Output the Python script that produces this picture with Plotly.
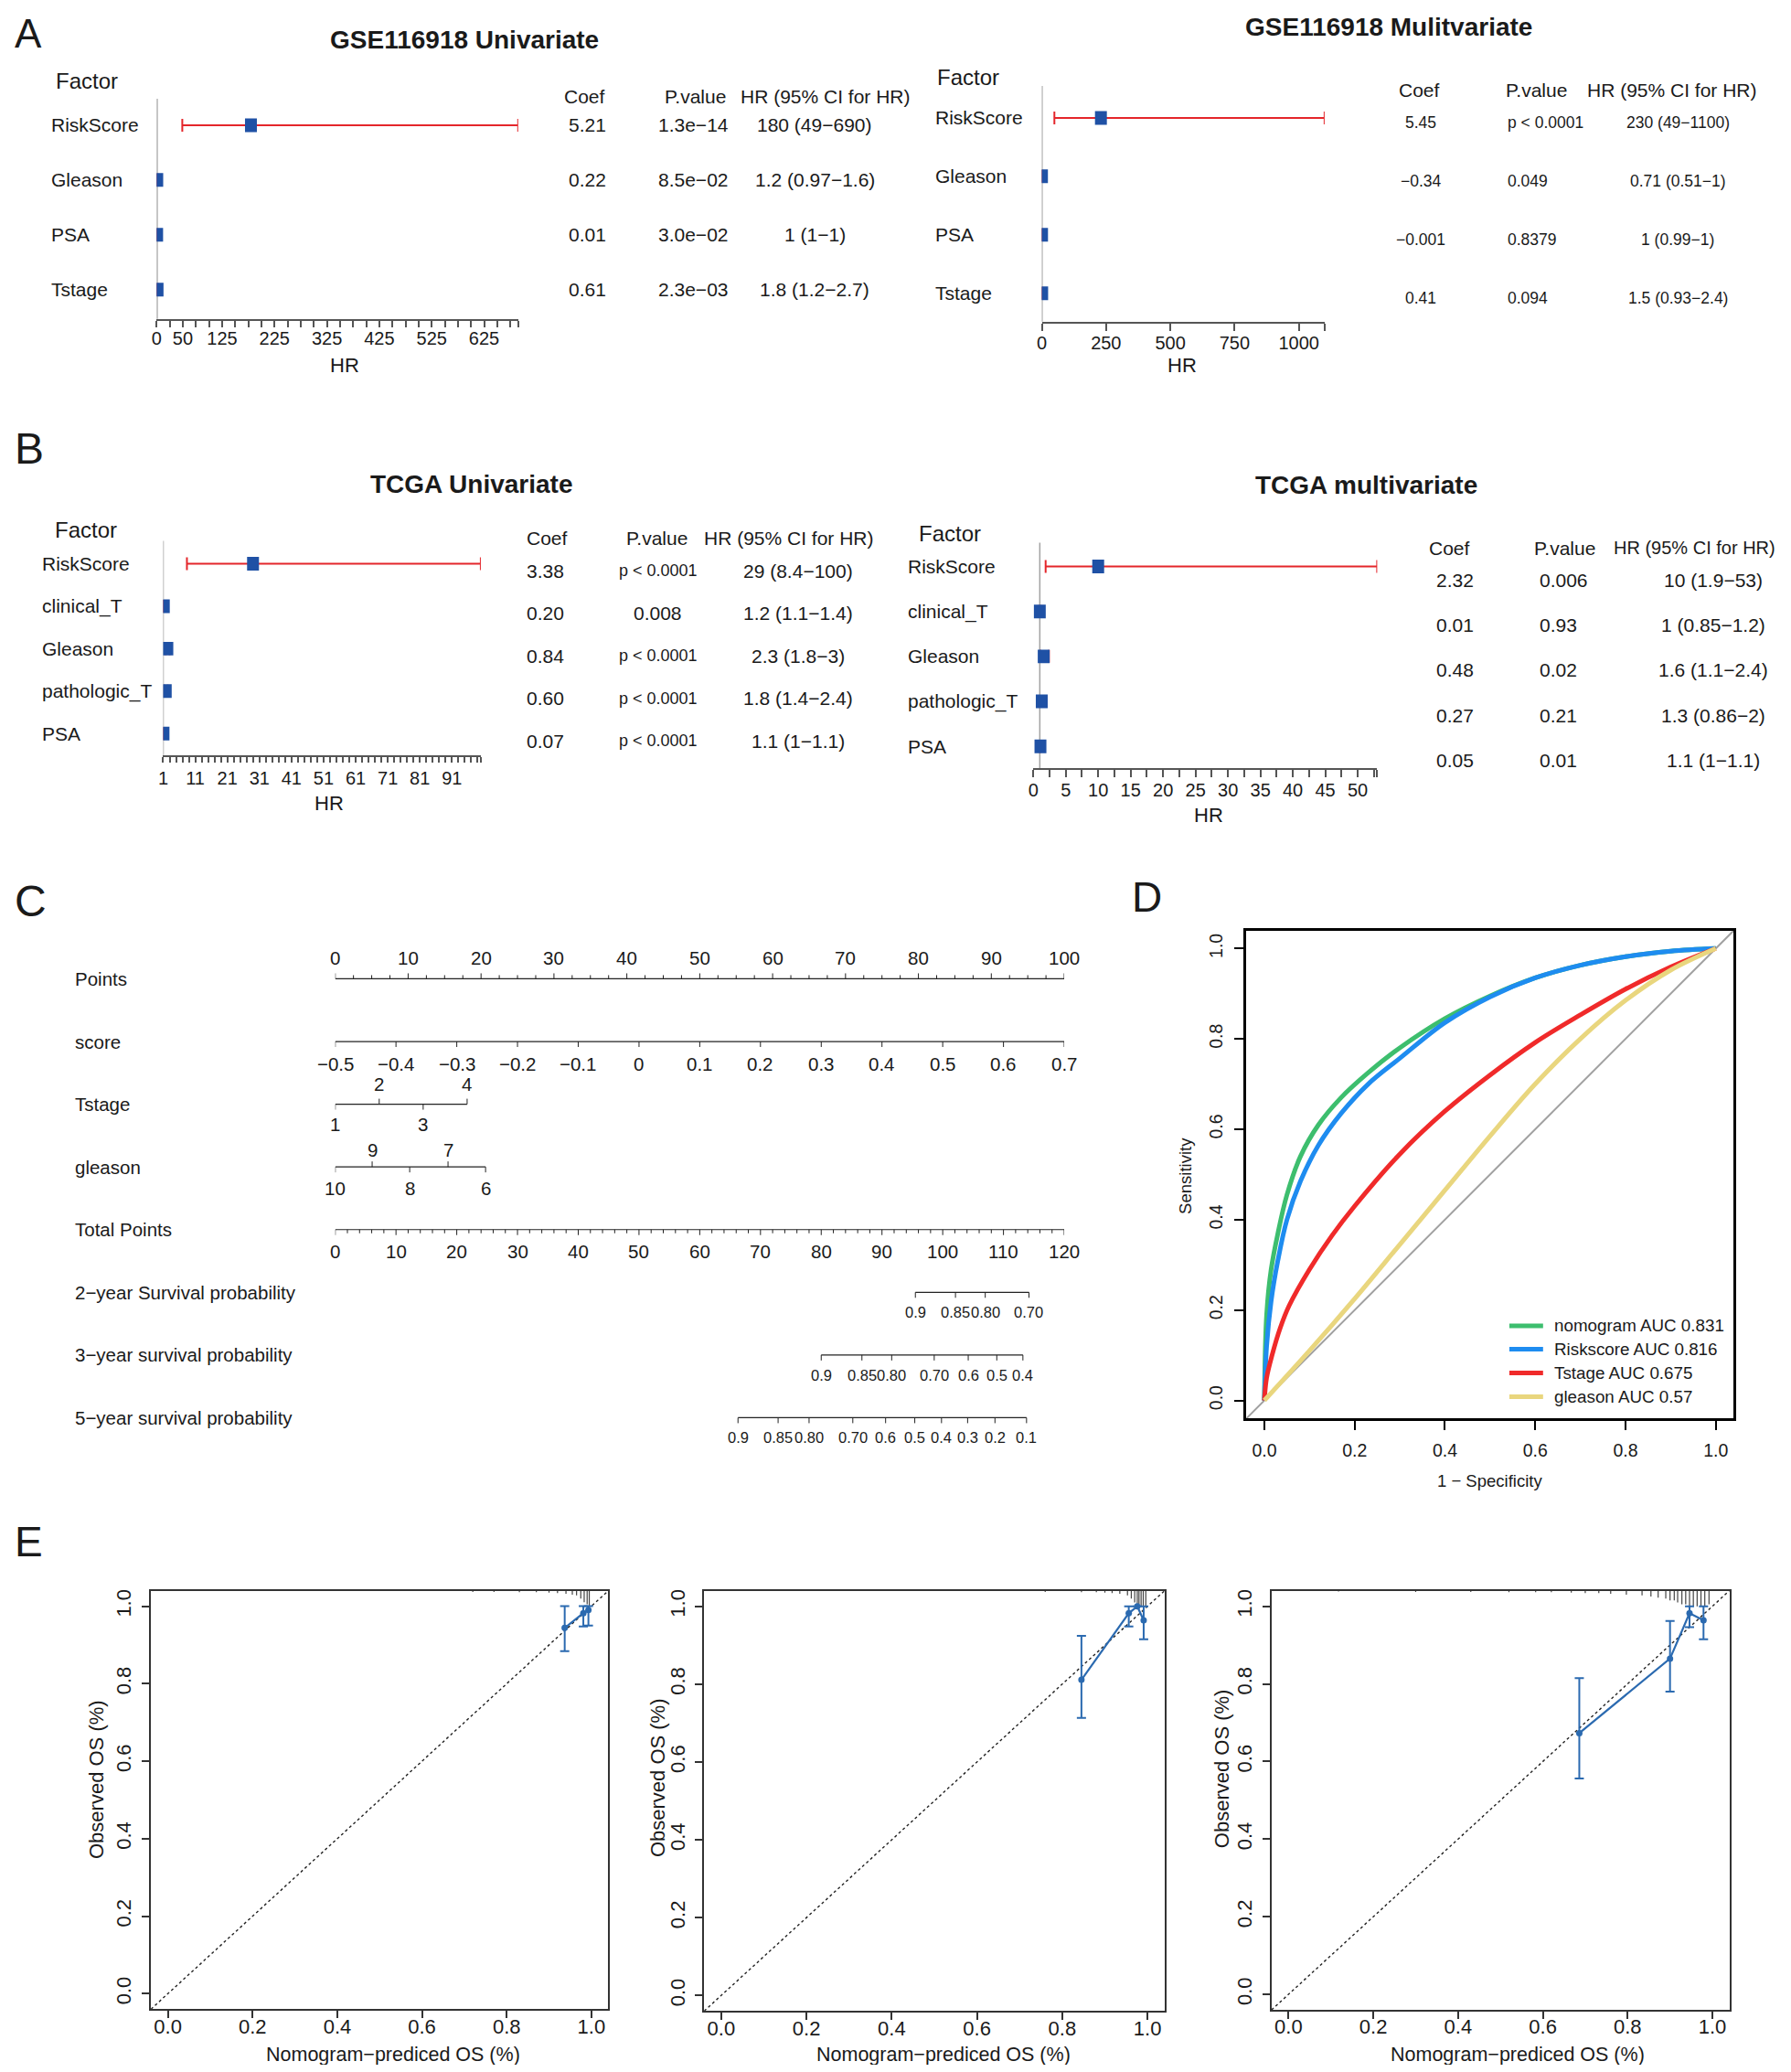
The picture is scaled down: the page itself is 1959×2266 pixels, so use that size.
import numpy as np
import plotly.graph_objects as go

# window geometry; the page body adds an 8 px margin around the figure
W, H = 1959, 2266
OX, OY = 8, 8
FW, FH = W - 2 * OX, H - 2 * OY
LEFT_FIX = -6          # compensates the inner padding of left-anchored annotations
ARIAL = "Liberation Sans, Arial, Helvetica, sans-serif"
INK = "#1a1a1a"
AXIS_GREY = "#555555"
BOX_BLUE = "#1F51A5"
CI_RED = "#E4262B"
CAL_BLUE = "#2B6AB0"

# ---------------- Panel A: GSE116918 ----------------
gse_uni_factors = ["RiskScore", "Gleason", "PSA", "Tstage"]
gse_uni_hr = [180, 1.2, 1, 1.8]
gse_uni_lo = [49, 0.97, 1, 1.2]
gse_uni_hi = [690, 1.6, 1, 2.7]
gse_uni_coef = ["5.21", "0.22", "0.01", "0.61"]
gse_uni_p = ["1.3e−14", "8.5e−02", "3.0e−02", "2.3e−03"]
gse_uni_ci = ["180 (49−690)", "1.2 (0.97−1.6)", "1 (1−1)", "1.8 (1.2−2.7)"]
gse_uni_ticklabels = [0, 50, 125, 225, 325, 425, 525, 625]

gse_multi_factors = ["RiskScore", "Gleason", "PSA", "Tstage"]
gse_multi_hr = [230, 0.71, 1, 1.5]
gse_multi_lo = [49, 0.51, 0.99, 0.93]
gse_multi_hi = [1100, 1, 1, 2.4]
gse_multi_coef = ["5.45", "−0.34", "−0.001", "0.41"]
gse_multi_p = ["p < 0.0001", "0.049", "0.8379", "0.094"]
gse_multi_ci = ["230 (49−1100)", "0.71 (0.51−1)", "1 (0.99−1)", "1.5 (0.93−2.4)"]
gse_multi_ticklabels = [0, 250, 500, 750, 1000]

# ---------------- Panel B: TCGA ----------------
tcga_uni_factors = ["RiskScore", "clinical_T", "Gleason", "pathologic_T", "PSA"]
tcga_uni_hr = [29, 1.2, 2.3, 1.8, 1.1]
tcga_uni_lo = [8.4, 1.1, 1.8, 1.4, 1]
tcga_uni_hi = [100, 1.4, 3, 2.4, 1.1]
tcga_uni_coef = ["3.38", "0.20", "0.84", "0.60", "0.07"]
tcga_uni_p = ["p < 0.0001", "0.008", "p < 0.0001", "p < 0.0001", "p < 0.0001"]
tcga_uni_ci = ["29 (8.4−100)", "1.2 (1.1−1.4)", "2.3 (1.8−3)", "1.8 (1.4−2.4)", "1.1 (1−1.1)"]
tcga_uni_ticklabels = [1, 11, 21, 31, 41, 51, 61, 71, 81, 91]

tcga_multi_factors = ["RiskScore", "clinical_T", "Gleason", "pathologic_T", "PSA"]
tcga_multi_hr = [10, 1, 1.6, 1.3, 1.1]
tcga_multi_lo = [1.9, 0.85, 1.1, 0.86, 1]
tcga_multi_hi = [53, 1.2, 2.4, 2, 1.1]
tcga_multi_coef = ["2.32", "0.01", "0.48", "0.27", "0.05"]
tcga_multi_p = ["0.006", "0.93", "0.02", "0.21", "0.01"]
tcga_multi_ci = ["10 (1.9−53)", "1 (0.85−1.2)", "1.6 (1.1−2.4)", "1.3 (0.86−2)", "1.1 (1−1.1)"]
tcga_multi_ticklabels = [0, 5, 10, 15, 20, 25, 30, 35, 40, 45, 50]

# ---------------- Panel C: nomogram ----------------
nomo_row_labels = ["Points", "score", "Tstage", "gleason", "Total Points",
                   "2−year Survival probability", "3−year survival probability",
                   "5−year survival probability"]
points_labels = [0, 10, 20, 30, 40, 50, 60, 70, 80, 90, 100]
score_labels = ["−0.5", "−0.4", "−0.3", "−0.2", "−0.1", "0", "0.1", "0.2", "0.3", "0.4", "0.5", "0.6", "0.7"]
score_points = [0, 8.33, 16.67, 25, 33.33, 41.67, 50, 58.33, 66.67, 75, 83.33, 91.67, 100]
tstage_labels = ["1", "2", "3", "4"]
tstage_points = [0, 6.03, 12.06, 18.09]
gleason_labels = ["10", "9", "8", "7", "6"]
gleason_points = [0, 5.06, 10.21, 15.47, 20.62]
total_labels = [0, 10, 20, 30, 40, 50, 60, 70, 80, 90, 100, 110, 120]
surv2_labels = ["0.9", "0.85", "0.80", "0.70"]
surv2_total = [95.5, 102.1, 107.0, 114.2]
surv3_labels = ["0.9", "0.85", "0.80", "0.70", "0.6", "0.5", "0.4"]
surv3_total = [80.0, 86.7, 91.6, 98.6, 104.2, 108.9, 113.2]
surv5_labels = ["0.9", "0.85", "0.80", "0.70", "0.6", "0.5", "0.4", "0.3", "0.2", "0.1"]
surv5_total = [66.3, 72.9, 78.0, 85.2, 90.6, 95.4, 99.8, 104.1, 108.6, 113.8]

# ---------------- Panel D: ROC ----------------
roc_names = ["nomogram AUC 0.831", "Riskscore AUC 0.816", "Tstage AUC 0.675", "gleason AUC 0.57"]
roc_colors = ["#3DBE6E", "#1E8CF0", "#F02A2A", "#E9D67E"]
nomo_fpr = [0, 0.005, 0.015, 0.03, 0.05, 0.08, 0.12, 0.17, 0.23, 0.3, 0.4, 0.5, 0.6, 0.7, 0.8, 0.9, 1.0]
nomo_tpr = [0, 0.19, 0.29, 0.37, 0.455, 0.54, 0.61, 0.67, 0.725, 0.78, 0.845, 0.895, 0.935, 0.963, 0.982, 0.994, 1.0]
risk_fpr = [0, 0.005, 0.015, 0.03, 0.05, 0.08, 0.12, 0.17, 0.23, 0.3, 0.4, 0.5, 0.6, 0.7, 0.8, 0.9, 1.0]
risk_tpr = [0, 0.12, 0.22, 0.31, 0.40, 0.485, 0.565, 0.635, 0.70, 0.757, 0.836, 0.893, 0.935, 0.963, 0.982, 0.994, 1.0]
tstage_fpr = [0, 0.005, 0.017, 0.035, 0.055, 0.1, 0.15, 0.2, 0.3, 0.4, 0.5, 0.6, 0.7, 0.8, 0.9, 1.0]
tstage_tpr = [0, 0.05, 0.10, 0.16, 0.21, 0.29, 0.365, 0.43, 0.545, 0.64, 0.72, 0.792, 0.853, 0.91, 0.959, 1.0]
gleason_fpr = [0, 0.1, 0.2, 0.3, 0.4, 0.5, 0.6, 0.7, 0.8, 0.9, 1.0]
gleason_tpr = [0, 0.11, 0.225, 0.345, 0.465, 0.585, 0.70, 0.80, 0.885, 0.952, 1.0]

# ---------------- Panel E: calibration ----------------
cal1_pred = [0.937, 0.981, 0.993]
cal1_obs = [0.944, 0.982, 0.99]
cal1_lo = [0.884, 0.948, 0.950]
cal1_hi = [1.0, 1.0, 1.0]
cal1_rug_x = [0.72, 0.77, 0.83, 0.87, 0.90, 0.92, 0.94, 0.955, 0.965, 0.975, 0.983, 0.99, 0.995]
cal1_rug_h = [0.003, 0.003, 0.004, 0.004, 0.005, 0.006, 0.008, 0.01, 0.012, 0.02, 0.03, 0.035, 0.04]

cal2_pred = [0.845, 0.956, 0.976, 0.991]
cal2_obs = [0.811, 0.982, 1.0, 0.964]
cal2_lo = [0.713, 0.948, 1.0, 0.915]
cal2_hi = [0.924, 1.0, 1.0, 1.0]
cal2_rug_x = [0.76, 0.845, 0.88, 0.90, 0.917, 0.935, 0.953, 0.962, 0.97, 0.976, 0.98, 0.985, 0.99, 0.996]
cal2_rug_h = [0.003, 0.004, 0.004, 0.005, 0.006, 0.008, 0.012, 0.02, 0.03, 0.035, 0.035, 0.04, 0.04, 0.04]

cal3_pred = [0.686, 0.90, 0.946, 0.979]
cal3_obs = [0.673, 0.865, 0.982, 0.964]
cal3_lo = [0.556, 0.780, 0.946, 0.915]
cal3_hi = [0.815, 0.962, 1.0, 1.0]
cal3_rug_x = [0.118, 0.30, 0.43, 0.52, 0.583, 0.62, 0.667, 0.70, 0.732, 0.76, 0.797, 0.834, 0.855,
              0.872, 0.89, 0.90, 0.91, 0.918, 0.928, 0.937, 0.946, 0.955, 0.964, 0.973, 0.982, 0.992]
cal3_rug_h = [0.002, 0.003, 0.003, 0.004, 0.004, 0.004, 0.005, 0.006, 0.006, 0.008, 0.01, 0.012, 0.015,
              0.018, 0.02, 0.025, 0.025, 0.03, 0.035, 0.035, 0.04, 0.04, 0.04, 0.04, 0.04, 0.035]

# ======================================================================
fig = go.Figure()
layout_axes = {}
annotations = []
shapes = []


def ax_names(k):
    if k == 1:
        return "xaxis", "yaxis", "x", "y"
    return f"xaxis{k}", f"yaxis{k}", f"x{k}", f"y{k}"


def fx(px):
    return (px - OX) / FW


def fy(py):
    return 1 - (py - OY) / FH


def xdom(a, b):
    return [fx(a), fx(b)]


def ydom(top, bot):
    return [fy(bot), fy(top)]


def text(t, x, y, size, xanchor="center", yanchor="middle", angle=0, color=INK, fix=True):
    if xanchor == "left" and fix:
        x = x + LEFT_FIX
    annotations.append(dict(text=t, x=fx(x), y=fy(y), xref="paper", yref="paper",
                            showarrow=False, xanchor=xanchor, yanchor=yanchor, textangle=angle,
                            font=dict(size=size, family=ARIAL, color=color)))


def segs(xs, ys, xr, yr, color, width, dash="solid"):
    fig.add_trace(go.Scatter(x=xs, y=ys, xaxis=xr, yaxis=yr, mode="lines",
                             line=dict(color=color, width=width, dash=dash),
                             showlegend=False, hoverinfo="skip"))


def fmt(v):
    return f"{v:g}"


def forest(k, cfg):
    xa, ya, xr, yr = ax_names(k)
    factors = cfg["factors"]
    rows = list(range(len(factors)))
    top, bot = cfg["ypx"]
    r0, st = cfg["row0"], cfg["step"]
    tickvals = cfg["tickvals"]
    ticktext = [fmt(v) if any(abs(v - t) < 1e-9 for t in cfg["ticklabels"]) else "" for v in tickvals]
    layout_axes[xa] = dict(domain=xdom(*cfg["xpx"]), range=cfg["xrange"], anchor=yr,
                           tickmode="array", tickvals=tickvals, ticktext=ticktext,
                           ticks="outside", ticklen=cfg.get("ticklen", 7), tickwidth=1.5,
                           tickcolor=AXIS_GREY, showline=True, linecolor=AXIS_GREY, linewidth=2,
                           showgrid=False, zeroline=False,
                           ticklabelstandoff=cfg.get("standoff", 0),
                           tickfont=dict(family=ARIAL, size=20, color=INK))
    layout_axes[ya] = dict(domain=ydom(top, bot), range=[(bot - r0) / st, (top - r0) / st],
                           anchor=xr, visible=False)
    shapes.append(dict(type="line", xref=xr, yref=f"{yr} domain", x0=1, x1=1, y0=0, y1=1,
                       line=dict(color="#A3A3A3", width=1.5), layer="below"))
    hr, lo, hi = cfg["hr"], cfg["lo"], cfg["hi"]
    fig.add_trace(go.Scatter(
        x=hr, y=rows, xaxis=xr, yaxis=yr, mode="markers",
        marker=dict(size=1, color="rgba(0,0,0,0)"),
        error_x=dict(type="data", symmetric=False,
                     array=[b - a for a, b in zip(hr, hi)],
                     arrayminus=[a - b for a, b in zip(hr, lo)],
                     color=CI_RED, thickness=2, width=7),
        showlegend=False, hoverinfo="skip"))
    half = 7.5 / st
    bx, by = [], []
    for h, r in zip(hr, rows):
        bx += [h, h, None]
        by += [r - half, r + half, None]
    segs(bx, by, xr, yr, BOX_BLUE, 13)
    for i, f in enumerate(factors):
        annotations.append(dict(text=f, x=fx(cfg["label_x"] + LEFT_FIX), y=i, xref="paper", yref=yr,
                                xanchor="left", yanchor="middle", showarrow=False,
                                font=dict(family=ARIAL, size=21, color=INK)))
    for col, (cx, anchor) in zip([cfg["coef"], cfg["p"], cfg["ci"]], cfg["cols"]):
        for i, t in enumerate(col):
            size = cfg.get("psize", 18) if t.startswith("p <") else cfg.get("vsize", 21)
            xx = cx + (LEFT_FIX if anchor == "left" else 0)
            annotations.append(dict(text=t, x=fx(xx), y=i, xref="paper", yref=yr,
                                    xanchor=anchor, yanchor="middle", showarrow=False,
                                    yshift=cfg["shift"],
                                    font=dict(family=ARIAL, size=size, color=INK)))
    hx = cfg["hdr"]
    text("Factor", hx["factor"][0], hx["factor"][1], 24, xanchor="left")
    text("Coef", hx["coef"], hx["y"], 21)
    text("P.value", hx["p"], hx["y"], 21)
    text("HR (95% CI for HR)", hx["hr"], hx["y"], hx.get("hrsize", 21))
    text("<b>" + cfg["title"][0] + "</b>", cfg["title"][1], cfg["title"][2], 28)
    text("HR", cfg["hrlab"][0], cfg["hrlab"][1], 22)


forest(1, dict(factors=gse_uni_factors, hr=gse_uni_hr, lo=gse_uni_lo, hi=gse_uni_hi,
               coef=gse_uni_coef, p=gse_uni_p, ci=gse_uni_ci,
               xpx=(165.8, 562.5), ypx=(106, 347), xrange=[0, 690], row0=135, step=60,
               tickvals=[float(v) for v in np.arange(0, 676, 25)] + [690.0],
               ticklabels=gse_uni_ticklabels, label_x=54, standoff=-5,
               cols=[(638, "center"), (755, "center"), (888, "center")], shift=0,
               hdr=dict(factor=(59, 87), coef=635, p=757, hr=900, y=104),
               title=("GSE116918 Univariate", 504, 42), hrlab=(372, 398)))

forest(2, dict(factors=gse_multi_factors, hr=gse_multi_hr, lo=gse_multi_lo, hi=gse_multi_hi,
               coef=gse_multi_coef, p=gse_multi_p, ci=gse_multi_ci,
               xpx=(1137, 1447.3), ypx=(92, 350), xrange=[0, 1100], row0=127, step=64,
               tickvals=[0.0, 250.0, 500.0, 750.0, 1000.0, 1100.0],
               ticklabels=gse_multi_ticklabels, label_x=1024, vsize=17.5, psize=17.5,
               cols=[(1553, "center"), (1652, "left"), (1835, "center")], shift=-5,
               hdr=dict(factor=(1026, 83), coef=1551, p=1680, hr=1829, y=97),
               title=("GSE116918 Mulitvariate", 1518, 28), hrlab=(1291, 398), ticklen=8,
               standoff=-4))

forest(3, dict(factors=tcga_uni_factors, hr=tcga_uni_hr, lo=tcga_uni_lo, hi=tcga_uni_hi,
               coef=tcga_uni_coef, p=tcga_uni_p, ci=tcga_uni_ci,
               xpx=(173, 521.5), ypx=(590, 825), xrange=[1, 100], row0=615, step=46.5,
               tickvals=[float(v) for v in np.arange(1, 100, 2)] + [100.0],
               ticklabels=tcga_uni_ticklabels, label_x=44,
               cols=[(592, "center"), (716, "center"), (870, "center")], shift=-8,
               hdr=dict(factor=(58, 578), coef=594, p=715, hr=860, y=587),
               title=("TCGA Univariate", 511, 528), hrlab=(355, 877), ticklen=6))

forest(4, dict(factors=tcga_multi_factors, hr=tcga_multi_hr, lo=tcga_multi_lo, hi=tcga_multi_hi,
               coef=tcga_multi_coef, p=tcga_multi_p, ci=tcga_multi_ci,
               xpx=(1127.7, 1505), ypx=(592, 839), xrange=[0, 53], row0=618, step=49.25,
               tickvals=[float(v) for v in np.arange(0, 53, 2.5)] + [53.0],
               ticklabels=tcga_multi_ticklabels, label_x=994,
               cols=[(1590, "center"), (1687, "left"), (1874, "center")], shift=-15,
               hdr=dict(factor=(1006, 582), coef=1584, p=1711, hr=1853, y=598, hrsize=20),
               title=("TCGA multivariate", 1493, 529), hrlab=(1320, 890), ticklen=8,
               standoff=-3))

# ---------------- Panel C ----------------
C_TOP, C_BOT = 1020, 1600
C_ROW0, C_STEP = 1069.4, 68.63
layout_axes["xaxis5"] = dict(domain=xdom(361.8, 1161.6), range=[0, 100], visible=False, anchor="y5")
layout_axes["yaxis5"] = dict(domain=ydom(C_TOP, C_BOT),
                             range=[(C_BOT - C_ROW0) / C_STEP, (C_TOP - C_ROW0) / C_STEP],
                             visible=False, anchor="x5")
TOTAL_MAX = 120.0


def nomo(row, pos, labels, sides, size=20.5, gap_above=22, gap_below=23, ticklen=6,
         minor=None, minor_len=4):
    segs([min(pos), max(pos)], [row, row], "x5", "y5", "#222", 1.2)
    tx, ty = [], []
    for p, s in zip(pos, sides):
        d = ticklen / C_STEP * (-1 if s == "above" else 1)
        tx += [p, p, None]
        ty += [row, row + d, None]
    if minor is not None:
        for p in minor:
            d = minor_len / C_STEP * (-1 if sides[0] == "above" else 1)
            tx += [p, p, None]
            ty += [row, row + d, None]
    segs(tx, ty, "x5", "y5", "#222", 1)
    for p, lab, s in zip(pos, labels, sides):
        annotations.append(dict(text=lab, x=p, y=row, xref="x5", yref="y5", showarrow=False,
                                xanchor="center", yanchor="middle",
                                yshift=gap_above if s == "above" else -gap_below,
                                font=dict(family=ARIAL, size=size, color=INK)))


nomo(0, points_labels, [str(v) for v in points_labels], ["above"] * len(points_labels),
     minor=[float(v) for v in np.arange(0, 100.01, 2.5) if v % 10], gap_above=23)
nomo(1, score_points, score_labels, ["below"] * len(score_labels), gap_below=24.5)
nomo(2, tstage_points, tstage_labels, ["below", "above", "below", "above"],
     gap_above=22, gap_below=22)
nomo(3, gleason_points, gleason_labels, ["below", "above", "below", "above", "below"],
     gap_above=18.5, gap_below=23.5)
total_pts = [v * 100 / TOTAL_MAX for v in total_labels]
nomo(4, total_pts, [str(v) for v in total_labels], ["below"] * len(total_labels), gap_below=23.5,
     minor=[v * 100 / TOTAL_MAX for v in np.arange(0, 120.01, 2) if v % 10])
for row, lab, tot in [(5, surv2_labels, surv2_total), (6, surv3_labels, surv3_total),
                      (7, surv5_labels, surv5_total)]:
    nomo(row, [v * 100 / TOTAL_MAX for v in tot], lab, ["below"] * len(lab), size=16.5,
         gap_below=21.7)
for i, lab in enumerate(nomo_row_labels):
    annotations.append(dict(text=lab, x=fx(80 + LEFT_FIX), y=i, xref="paper", yref="y5",
                            xanchor="left", yanchor="middle", showarrow=False,
                            font=dict(family=ARIAL, size=20.5, color=INK)))

# ---------------- Panel D ----------------
LIM = [-0.04, 1.04]
D_AX = dict(range=LIM, tickmode="array", tickvals=[0, 0.2, 0.4, 0.6, 0.8, 1.0], tickformat=".1f",
            ticks="outside", ticklen=10, tickwidth=2, tickcolor="black", showline=True,
            mirror=True, linecolor="black", linewidth=2.5, showgrid=False, zeroline=False,
            ticklabelstandoff=6,
            tickfont=dict(family=ARIAL, size=19.5, color=INK))
layout_axes["xaxis6"] = dict(domain=xdom(1361.4, 1896.3), anchor="y6", **D_AX)
layout_axes["yaxis6"] = dict(domain=ydom(1016.4, 1550.7), anchor="x6", tickangle=-90, **D_AX)
segs(LIM, LIM, "x6", "y6", "#A0A0A0", 2)
for name, col, rx_, ry_ in zip(roc_names, roc_colors,
                               [nomo_fpr, risk_fpr, tstage_fpr, gleason_fpr],
                               [nomo_tpr, risk_tpr, tstage_tpr, gleason_tpr]):
    fig.add_trace(go.Scatter(x=rx_, y=ry_, xaxis="x6", yaxis="y6", mode="lines", name=name,
                             line=dict(color=col, width=5, shape="spline", smoothing=1.0),
                             showlegend=False, hoverinfo="skip"))
# legend (drawn as keys + labels)
LEG_Y = [1449.2, 1474.8, 1500.8, 1526.8]
for name, col, ly in zip(roc_names, roc_colors, LEG_Y):
    shapes.append(dict(type="line", xref="paper", yref="paper", x0=fx(1650), x1=fx(1687),
                       y0=fy(ly), y1=fy(ly), line=dict(color=col, width=5)))
    text(name, 1703, ly, 18.8, xanchor="left")
text("1 − Specificity", 1629, 1619, 18.5)
text("Sensitivity", 1295, 1285, 18.5, angle=-90)

# ---------------- Panel E ----------------
E_AX = dict(range=LIM, tickmode="array", tickvals=[0, 0.2, 0.4, 0.6, 0.8, 1.0], tickformat=".1f",
            ticks="outside", ticklen=8, tickwidth=1.5, tickcolor="#333", showline=True,
            mirror=True, linecolor="#333", linewidth=1.8, showgrid=False, zeroline=False,
            tickfont=dict(family=ARIAL, size=22, color=INK))


def calib(k, xpx, ypx, pred, obs, lo, hi, rug_x, rug_h, xt, yt):
    xa, ya, xr, yr = ax_names(k)
    layout_axes[xa] = dict(domain=xdom(*xpx), anchor=yr, ticklabelstandoff=-10, **E_AX)
    layout_axes[ya] = dict(domain=ydom(*ypx), anchor=xr, tickangle=-90, ticklabelstandoff=3, **E_AX)
    segs(LIM, LIM, xr, yr, "#222", 1.4, dash="dot")
    rx, ry = [], []
    for x, h in zip(rug_x, rug_h):
        rx += [x, x, None]
        ry += [LIM[1], LIM[1] - h, None]
    segs(rx, ry, xr, yr, "#444", 1.2)
    fig.add_trace(go.Scatter(
        x=pred, y=obs, xaxis=xr, yaxis=yr, mode="lines+markers",
        line=dict(color=CAL_BLUE, width=2.2), marker=dict(color=CAL_BLUE, size=7),
        error_y=dict(type="data", symmetric=False,
                     array=[h - o for o, h in zip(obs, hi)],
                     arrayminus=[o - l for o, l in zip(obs, lo)],
                     color=CAL_BLUE, thickness=2, width=5),
        showlegend=False, hoverinfo="skip"))
    text("Nomogram−prediced OS (%)", xt[0], xt[1], 21.5)
    text("Observed OS (%)", yt[0], yt[1], 22, angle=-90)


calib(7, (159.6, 661.4), (1739.2, 2197.2), cal1_pred, cal1_obs, cal1_lo, cal1_hi,
      cal1_rug_x, cal1_rug_h, (425, 2247), (100, 1946))
calib(8, (766.6, 1271.7), (1739.2, 2199.2), cal2_pred, cal2_obs, cal2_lo, cal2_hi,
      cal2_rug_x, cal2_rug_h, (1029, 2247), (715, 1944))
calib(9, (1389.1, 1891.4), (1739.2, 2198), cal3_pred, cal3_obs, cal3_lo, cal3_hi,
      cal3_rug_x, cal3_rug_h, (1659, 2247), (1334, 1934))

# ---------------- Panel letters ----------------
text("A", OX, OY, 44, xanchor="left", yanchor="top", fix=False)
text("B", OX, 489, 48, xanchor="left", fix=False)
text("C", OX, 984, 48, xanchor="left", fix=False)
text("D", 1240, 980, 46, xanchor="left")
text("E", OX, 1685, 46, xanchor="left", fix=False)

fig.update_layout(
    width=FW, height=FH, margin=dict(l=0, r=0, t=0, b=0),
    paper_bgcolor="white", plot_bgcolor="white",
    showlegend=False,
    annotations=annotations, shapes=shapes,
    **layout_axes)

fig.write_html("out.html")
